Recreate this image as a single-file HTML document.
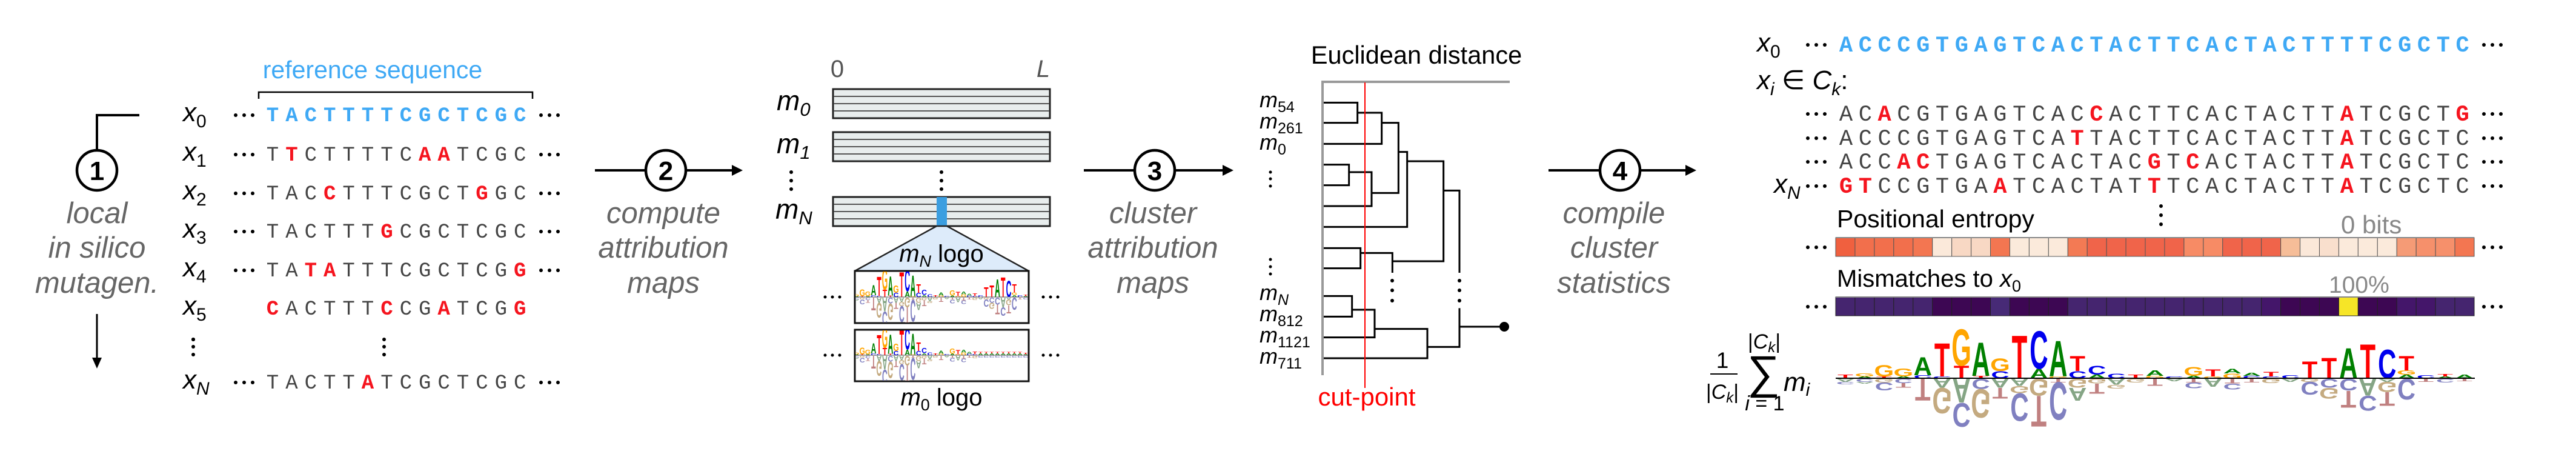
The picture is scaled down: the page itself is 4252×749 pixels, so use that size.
<!DOCTYPE html>
<html><head><meta charset="utf-8"><style>
html,body{margin:0;padding:0;background:#fff;}
svg{display:block;}
text{font-family:"Liberation Sans",Arial,sans-serif;}
.lab{font-size:49px;font-style:italic;fill:#666;}
.mono{font-family:"Liberation Mono","DejaVu Sans Mono",monospace;}
.it{font-style:italic;}
</style></head><body>
<svg id="s" width="4252" height="749" viewBox="0 0 4252 749" xmlns="http://www.w3.org/2000/svg">
<defs>
<marker id="ah" markerWidth="10" markerHeight="10" refX="9" refY="5" orient="auto" markerUnits="userSpaceOnUse"></marker>
<clipPath id="c1"><rect x="1412" y="448" width="285" height="84"/></clipPath>
<clipPath id="c2"><rect x="1412" y="545" width="285" height="83"/></clipPath>
</defs>

<!-- step 1 -->
<polyline points="230,190 160,190 160,247" fill="none" stroke="#000" stroke-width="4"/>
<circle cx="160" cy="281" r="33" fill="#fff" stroke="#000" stroke-width="4.5"/>
<text x="160" y="297" text-anchor="middle" font-size="44" font-weight="bold">1</text>
<text class="lab" x="160" y="368" text-anchor="middle">local</text>
<text class="lab" x="160" y="425" text-anchor="middle">in silico</text>
<text class="lab" x="160" y="483" text-anchor="middle">mutagen.</text>
<line x1="160" y1="518" x2="160" y2="592" stroke="#000" stroke-width="3"/>
<polygon points="152,590 168,590 160,608" fill="#000"/>

<text x="615" y="129" text-anchor="middle" font-size="41" fill="#3fa9f5">reference sequence</text>
<polyline points="427,163 427,152 879,152 879,163" fill="none" stroke="#000" stroke-width="2.5"/>
<g id="leftseq"></g>

<!-- step 2 -->
<line x1="982" y1="281" x2="1066" y2="281" stroke="#000" stroke-width="4"/>
<circle cx="1099" cy="281" r="33" fill="#fff" stroke="#000" stroke-width="4.5"/>
<text x="1099" y="297" text-anchor="middle" font-size="44" font-weight="bold">2</text>
<line x1="1132" y1="281" x2="1210" y2="281" stroke="#000" stroke-width="4"/>
<polygon points="1208,272 1208,290 1226,281" fill="#000"/>
<text class="lab" x="1095" y="368" text-anchor="middle">compute</text>
<text class="lab" x="1095" y="425" text-anchor="middle">attribution</text>
<text class="lab" x="1095" y="483" text-anchor="middle">maps</text>

<text x="1382" y="127" text-anchor="middle" font-size="40" fill="#555">0</text>
<text x="1722" y="127" text-anchor="middle" font-size="40" fill="#555" font-style="italic">L</text>
<g id="maps"></g>
<text x="1282" y="182" font-size="46" class="it">m<tspan font-size="31" dy="9">0</tspan></text>
<text x="1282" y="253" font-size="46" class="it">m<tspan font-size="31" dy="9">1</tspan></text>
<text x="1280" y="361" font-size="46" class="it">m<tspan font-size="31" dy="9">N</tspan></text>
<g fill="#000"><circle cx="1306" cy="284" r="3"/><circle cx="1306" cy="298" r="3"/><circle cx="1306" cy="312" r="3"/>
<circle cx="1554" cy="284" r="3"/><circle cx="1554" cy="298" r="3"/><circle cx="1554" cy="312" r="3"/></g>
<polygon points="1546,373 1563,373 1698,447 1411,447" fill="#ddebfa" stroke="#222" stroke-width="2.5"/>
<text x="1554" y="432" text-anchor="middle" font-size="40"><tspan class="it">m</tspan><tspan font-size="27" dy="8" class="it">N</tspan><tspan dy="-8"> logo</tspan></text>
<rect x="1411" y="447" width="287" height="86" fill="#fff" stroke="#111" stroke-width="3"/>
<rect x="1411" y="544" width="287" height="85" fill="#fff" stroke="#111" stroke-width="3"/>
<g id="slogo1" clip-path="url(#c1)"></g>
<g id="slogo2" clip-path="url(#c2)"></g>
<g fill="#000"><circle cx="1362" cy="490" r="2.5"/><circle cx="1374" cy="490" r="2.5"/><circle cx="1386" cy="490" r="2.5"/>
<circle cx="1722" cy="490" r="2.5"/><circle cx="1734" cy="490" r="2.5"/><circle cx="1746" cy="490" r="2.5"/>
<circle cx="1362" cy="586" r="2.5"/><circle cx="1374" cy="586" r="2.5"/><circle cx="1386" cy="586" r="2.5"/>
<circle cx="1722" cy="586" r="2.5"/><circle cx="1734" cy="586" r="2.5"/><circle cx="1746" cy="586" r="2.5"/></g>
<text x="1554" y="669" text-anchor="middle" font-size="40"><tspan class="it">m</tspan><tspan font-size="27" dy="8">0</tspan><tspan dy="-8"> logo</tspan></text>

<!-- step 3 -->
<line x1="1789" y1="281" x2="1873" y2="281" stroke="#000" stroke-width="4"/>
<circle cx="1906" cy="281" r="33" fill="#fff" stroke="#000" stroke-width="4.5"/>
<text x="1906" y="297" text-anchor="middle" font-size="44" font-weight="bold">3</text>
<line x1="1939" y1="281" x2="2020" y2="281" stroke="#000" stroke-width="4"/>
<polygon points="2018,272 2018,290 2036,281" fill="#000"/>
<text class="lab" x="1903" y="368" text-anchor="middle">cluster</text>
<text class="lab" x="1903" y="425" text-anchor="middle">attribution</text>
<text class="lab" x="1903" y="483" text-anchor="middle">maps</text>

<text x="2338" y="105" text-anchor="middle" font-size="41.5">Euclidean distance</text>
<polyline points="2492,135 2183,135 2183,619" fill="none" stroke="#999" stroke-width="4"/>
<g transform="translate(2060,140) scale(0.33333)" fill="none" stroke="#000" stroke-width="9">
<path d="M375,88H542V188H375 M542,138H662V292H375 M662,188H745V535H612 M375,395H500V497H375 M500,432H612V600H375 M745,332H788V703H375 M788,378H968V873H715 M375,808H557V908H375 M557,832H715V930 M968,523H1047V930 M1047,1105V1297H888 M1047,1197H1268 M375,1045H515V1147H375 M515,1113H627V1250H375 M627,1208H888V1353H375"/>
</g>
<g fill="#000"><circle cx="2298" cy="463" r="3"/><circle cx="2298" cy="479" r="3"/><circle cx="2298" cy="496" r="3"/>
<circle cx="2409" cy="463" r="3"/><circle cx="2409" cy="479" r="3"/><circle cx="2409" cy="496" r="3"/>
<circle cx="2483" cy="539" r="8"/>
<circle cx="2097" cy="284" r="2.5"/><circle cx="2097" cy="295" r="2.5"/><circle cx="2097" cy="307" r="2.5"/>
<circle cx="2097" cy="428" r="2.5"/><circle cx="2097" cy="440" r="2.5"/><circle cx="2097" cy="452" r="2.5"/></g>
<line x1="2253" y1="136" x2="2253" y2="640" stroke="#f00" stroke-width="2"/>
<text x="2256" y="669" text-anchor="middle" font-size="42" fill="#f00">cut-point</text>
<g font-size="36" class="it">
<text x="2079" y="177">m<tspan font-size="25" dy="8" font-style="normal">54</tspan></text>
<text x="2079" y="212">m<tspan font-size="25" dy="8" font-style="normal">261</tspan></text>
<text x="2079" y="247">m<tspan font-size="25" dy="8" font-style="normal">0</tspan></text>
<text x="2079" y="495">m<tspan font-size="25" dy="8">N</tspan></text>
<text x="2079" y="530">m<tspan font-size="25" dy="8" font-style="normal">812</tspan></text>
<text x="2079" y="565">m<tspan font-size="25" dy="8" font-style="normal">1121</tspan></text>
<text x="2079" y="600">m<tspan font-size="25" dy="8" font-style="normal">711</tspan></text>
</g>

<!-- step 4 -->
<line x1="2556" y1="281" x2="2641" y2="281" stroke="#000" stroke-width="4"/>
<circle cx="2674" cy="281" r="33" fill="#fff" stroke="#000" stroke-width="4.5"/>
<text x="2674" y="297" text-anchor="middle" font-size="44" font-weight="bold">4</text>
<line x1="2707" y1="281" x2="2784" y2="281" stroke="#000" stroke-width="4"/>
<polygon points="2782,272 2782,290 2800,281" fill="#000"/>
<text class="lab" x="2664" y="368" text-anchor="middle">compile</text>
<text class="lab" x="2664" y="425" text-anchor="middle">cluster</text>
<text class="lab" x="2664" y="483" text-anchor="middle">statistics</text>

<text x="2900" y="85" font-size="44"><tspan class="it">x</tspan><tspan font-size="30" dy="10">0</tspan></text>
<text x="2900" y="147" font-size="44"><tspan class="it">x</tspan><tspan font-size="30" dy="10" class="it">i</tspan><tspan dy="-10"> ∈ </tspan><tspan class="it">C</tspan><tspan font-size="30" dy="10" class="it">k</tspan><tspan dy="-10">:</tspan></text>
<text x="2928" y="318" font-size="44"><tspan class="it">x</tspan><tspan font-size="30" dy="10" class="it">N</tspan></text>
<g id="rightseq"></g>
<g fill="#000"><circle cx="3567" cy="340" r="3"/><circle cx="3567" cy="355" r="3"/><circle cx="3567" cy="370" r="3"/></g>
<text x="3032" y="375" font-size="41">Positional entropy</text>
<text x="3864" y="385" font-size="42" fill="#888">0 bits</text>
<text x="3032" y="473" font-size="40">Mismatches to <tspan class="it">x</tspan><tspan font-size="27" dy="8">0</tspan></text>
<text x="3844" y="483" font-size="39" fill="#888">100%</text>
<g id="bars"></g>

<text x="2843" y="607" text-anchor="middle" font-size="37">1</text>
<line x1="2823" y1="617" x2="2868" y2="617" stroke="#000" stroke-width="2"/>
<text x="2843" y="658" text-anchor="middle" font-size="34">|<tspan class="it">C</tspan><tspan class="it" font-size="24" dy="6">k</tspan><tspan dy="-6">|</tspan></text>
<text x="2912" y="575" text-anchor="middle" font-size="34">|<tspan class="it">C</tspan><tspan class="it" font-size="24" dy="6">k</tspan><tspan dy="-6">|</tspan></text>
<text x="2911" y="640" text-anchor="middle" font-size="76">∑</text>
<text x="2913" y="677" text-anchor="middle" font-size="34"><tspan class="it">i</tspan> = 1</text>
<text x="2944" y="645" font-size="44" class="it">m<tspan font-size="30" dy="8">i</tspan></text>
<g id="biglogo"></g>
<line x1="3030" y1="624" x2="4085" y2="624" stroke="#000" stroke-width="2"/>
</svg>
<script>
var NS="http://www.w3.org/2000/svg";
function el(p,t,a,txt){var e=document.createElementNS(NS,t);for(var k in a)e.setAttribute(k,a[k]);if(txt!==undefined)e.textContent=txt;p.appendChild(e);return e;}
function dots(p,x,y,r,sp){for(var i=0;i<3;i++)el(p,'circle',{cx:x+i*sp,cy:y,r:r,fill:'#000'});}
// left sequences
var L=document.getElementById('leftseq');
var rows=[["x","0","TACTTTTCGCTCGC","all",200,true],["x","1","TTCTTTTCAATCGC",[2,9,10],265,true],["x","2","TACCTTTCGCTGGC",[4,12],329,true],["x","3","TACTTTGCGCTCGC",[7],392,true],["x","4","TATATTTCGCTCGG",[3,4,14],456,true],["x","5","CACTTTCCGATCGG",[1,7,10,14],519,false],["x","N","TACTTATCGCTCGC",[6],641,true]];
rows.forEach(function(r){
 var t=el(L,'text',{x:302,y:r[4],'font-size':44});
 el(t,'tspan',{'font-style':'italic'},r[0]);el(t,'tspan',{'font-size':30,dy:10,'font-style':r[1]=='N'?'italic':'normal'},r[1]);
 if(r[5]){dots(L,389,r[4]-10,3,14);dots(L,893,r[4]-10,3,14);}
 for(var i=0;i<r[2].length;i++){var red=r[3]!=="all"&&r[3].indexOf(i+1)>=0;var blue=r[3]==="all";
  el(L,'text',{x:434+16+i*31.4,y:r[4],'text-anchor':'middle','font-size':34,'class':'mono','font-weight':(red||blue)?'bold':'normal',fill:blue?'#3fa9f5':(red?'#f5141e':'#444')},r[2][i]);}
});
dots(L,319,560,3,0.0001);el(L,'circle',{cx:319,cy:572,r:3});el(L,'circle',{cx:319,cy:585,r:3});
el(L,'circle',{cx:634,cy:560,r:3});el(L,'circle',{cx:634,cy:572,r:3});el(L,'circle',{cx:634,cy:585,r:3});
// maps
var M=document.getElementById('maps');
[147,218,325].forEach(function(y,k){el(M,'rect',{x:1375,y:y,width:358,height:48,fill:'#e8eded',stroke:'#222','stroke-width':3});
 [12,24,36].forEach(function(d){el(M,'line',{x1:1376,x2:1732,y1:y+d,y2:y+d,stroke:'#555','stroke-width':2});});
 if(k==2)el(M,'rect',{x:1546,y:y,width:17,height:48,fill:'#3b9ee0'});});
// right sequences
var R=document.getElementById('rightseq');
var rr=[["ACCCGTGAGTCACTACTTCACTACTTTTCGCTC","all",85],["ACACGTGAGTCACCACTTCACTACTTATCGCTG",[3,14,27,33],199],["ACCCGTGAGTCATTACTTCACTACTTATCGCTC",[13,27],239],["ACCACTGAGTCACTACGTCACTACTTATCGCTC",[4,5,17,19,27],278],["GTCCGTGAATCACTATTTCACTACTTATCGCTC",[1,2,9,17,27],318]];
rr.forEach(function(r){dots(R,2984,r[2]-11,3,14);dots(R,4100,r[2]-11,3,14);
 for(var i=0;i<33;i++){var blue=r[1]==="all";var red=!blue&&r[1].indexOf(i+1)>=0;
  el(R,'text',{x:3033+14+i*31.8,y:r[2],'text-anchor':'middle','font-size':37,'class':'mono','font-weight':(red||blue)?'bold':'normal',fill:blue?'#3fa9f5':(red?'#f5141e':'#444')},r[0][i]);}});
// bars
var B=document.getElementById('bars');
var ent=['#f0603f','#f26f4c','#f26f4c','#f26f4c','#f37651','#fbe9da','#f8d8c4','#f8d8c4','#f37651','#fbeadb','#fbeadb','#fbeadb','#f37a54','#f0644a','#f0644a','#f0644a','#f0644a','#f0644a','#f78b65','#f78b65','#f0644a','#f0644a','#f0644a','#f6bd98','#fbe8d9','#f9dfcd','#fbeadb','#fbeadb','#fbeadb','#f59b76','#f6906b','#f6906b','#f37651'];
var P1='#45256f',P2='#3d0753',P3='#44166a';
var mis=[P1,P1,P1,P1,P1,P2,P2,P2,'#472a76',P2,P2,P2,P1,P1,P1,P1,P1,P1,P1,P1,P1,P1,P3,P2,P2,P2,'#f6e527',P2,P2,P3,P3,P1,P1];
var bw=(4084-3030)/33;
for(var i=0;i<33;i++){el(B,'rect',{x:3030+i*bw,y:392,width:bw,height:31,fill:ent[i],stroke:'#555','stroke-width':1});
 el(B,'rect',{x:3030+i*bw,y:490,width:bw,height:31,fill:mis[i],stroke:'#222','stroke-width':1});}
el(B,'line',{x1:3030,x2:4084,y1:392,y2:392,stroke:'#888','stroke-width':2});el(B,'line',{x1:3030,x2:4084,y1:490,y2:490,stroke:'#888','stroke-width':2});
dots(B,2984,408,3,14);dots(B,4100,408,3,14);dots(B,2984,506,3,14);dots(B,4100,506,3,14);
// logos
var D=[
[[['T',6]],[['A',5],['C',4]]],[[['A',3],['G',5]],[['C',5],['A',3]]],[[['T',3],['G',19]],[['G',6],['C',13]]],[[['A',3],['G',13]],[['C',7],['T',8]]],
[[['C',5],['A',30]],[['T',37]]],[[['C',3],['T',56]],[['A',15],['G',43]]],[[['T',21],['G',61]],[['A',40],['C',40]]],[[['T',4],['A',56]],[['C',17],['G',48]]],
[[['C',12],['G',21]],[['A',15],['T',18]]],[[['T',72]],[['A',12],['G',12],['C',47]]],[[['A',16],['C',63]],[['G',28],['T',52]]],[[['G',3],['A',60]],[['T',6],['C',63]]],
[[['C',12],['T',25]],[['G',15],['A',22]]],[[['A',6],['C',15]],[['G',8],['T',17]]],[[['C',8]],[['A',10],['G',6]]],[[['T',6]],[['G',6]]],
[[['G',4],['A',9]],[['T',12]]],[[['C',3]],[['A',4]]],[[['A',4],['G',15]],[['T',6],['C',10]]],[[['G',3],['T',12]],[['A',13]]],
[[['G',8],['A',8]],[['T',8],['C',10]]],[[['C',4],['A',5]],[['T',6]]],[[['C',3],['T',8]],[['G',7]]],[[['C',5]],[['A',5]]],
[[['T',28]],[['G',5],['C',22]]],[[['T',34]],[['C',15],['G',18]]],[[['A',51]],[['C',20],['T',28]]],[[['T',57]],[['A',28],['C',25]]],
[[['C',48]],[['A',5],['G',17],['T',23]]],[[['A',6],['G',7],['T',24]],[['C',35]]],[[['C',5]],[['T',5]]],[[['A',3],['T',4]],[['C',6]]],[[['A',6]],[['T',4]]]];
var PC={A:'#008000',C:'#0000ee',G:'#ffa500',T:'#ff0000'},NC={A:'#85a585',C:'#8080c0',G:'#c4aa80',T:'#c08080'};
function logo(g,x0,pitch,base,sy,data){
 var kx=pitch*0.92/70;
 data.forEach(function(d,i){var cx=x0+pitch*(i+0.5);var cum=0;
  d[0].forEach(function(l){var h=l[1]*sy;if(h<0.5)return;
   el(g,'text',{transform:'translate('+cx+','+(base-cum)+') scale('+kx+','+(h/71)+')','text-anchor':'middle','font-size':100,'font-weight':'bold',fill:PC[l[0]]},l[0]);cum+=h;});
  cum=0;
  d[1].forEach(function(l){var h=l[1]*sy;if(h<0.5)return;
   el(g,'text',{transform:'translate('+cx+','+(base+1+cum)+') scale('+kx+','+(-h/71)+')','text-anchor':'middle','font-size':100,'font-weight':'bold',fill:NC[l[0]]},l[0]);cum+=h;});
 });}
logo(document.getElementById('biglogo'),3030,bw,624,1,D);
var g1=document.getElementById('slogo1');logo(g1,1400,9.3,490,0.58,D);
el(g1,'line',{x1:1412,x2:1697,y1:490,y2:490,stroke:'#555','stroke-width':1});
var D2=D.map(function(d,i){return (i>=23&&i<=30)?[[['A',5],['T',4]],[['C',5]]]:d;});
var g2=document.getElementById('slogo2');logo(g2,1400,9.3,586,0.58,D2);
el(g2,'line',{x1:1412,x2:1697,y1:586,y2:586,stroke:'#555','stroke-width':1});
</script>
</body></html>
